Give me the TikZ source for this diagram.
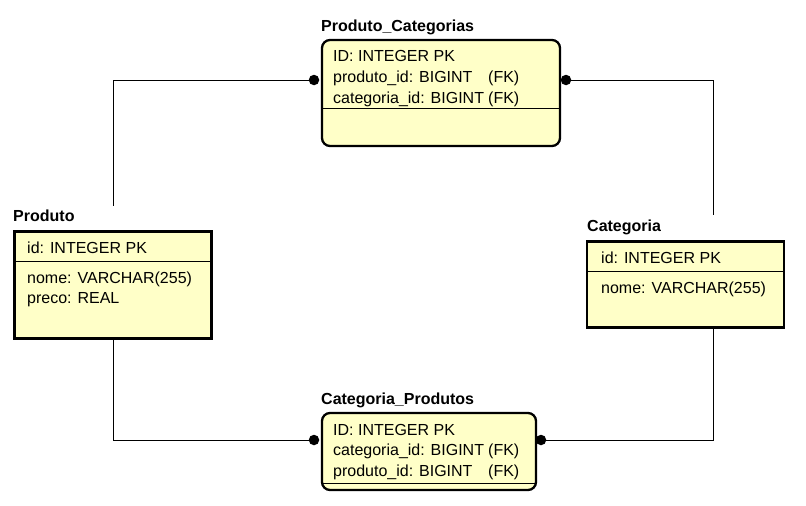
\documentclass[tikz,border=0pt]{standalone}
\usepackage{fontspec}
\setmainfont{Liberation Sans}
\definecolor{entfill}{HTML}{FFFFC8}
\begin{document}
\begin{tikzpicture}[x=1pt,y=-1pt,
  tbl/.style={draw=black, fill=entfill, line width=2.6pt, anchor=north west, inner sep=0pt, outer sep=0pt},
  rtbl/.style={tbl, line width=2.3pt, rounded corners=8pt},
  ttl/.style={anchor=base west, inner sep=0pt, font=\fontsize{16}{19}\selectfont\bfseries},
  fld/.style={anchor=base west, inner sep=0pt, font=\fontsize{16}{19}\selectfont},
  sep/.style={line width=0.9pt},
  conn/.style={line width=0.9pt},
  dotc/.style={circle, fill=black, inner sep=0pt, minimum size=10.5pt}]
\useasboundingbox (0,0) rectangle (806,506);

% ---- Produto_Categorias
\node[rtbl, minimum width=238pt, minimum height=106pt] (pc) at (322,40) {};
\draw[sep] (323,108.5) -- (559,108.5);
\node[ttl] (pct) at (321,31) {Produto\_Categorias};
\node[fld] (pc1) at (333,61.5) {ID: INTEGER PK};
\node[fld] (pc2) at (333,82.5) {produto\_id: BIGINT};
\node[fld] (pc2b) at (488,82.5) {(FK)};
\node[fld] (pc3) at (333,103) {categoria\_id: BIGINT};
\node[fld] (pc3b) at (488,103) {(FK)};

% ---- Categoria_Produtos
\node[rtbl, minimum width=214pt, minimum height=77pt] (cp) at (322,413) {};
\draw[sep] (323,483.5) -- (535,483.5);
\node[ttl] (cpt) at (321,404) {Categoria\_Produtos};
\node[fld] (cp1) at (333,435) {ID: INTEGER PK};
\node[fld] (cp2) at (333,455.5) {categoria\_id: BIGINT};
\node[fld] (cp2b) at (488,455.5) {(FK)};
\node[fld] (cp3) at (333,476) {produto\_id: BIGINT};
\node[fld] (cp3b) at (488,476) {(FK)};

% ---- Produto
\node[tbl, minimum width=197pt, minimum height=107pt] (p) at (14.5,231.5) {};
\draw[sep] (15,261.5) -- (211,261.5);
\node[ttl] (pt) at (13,221) {Produto};
\node[fld] (p1) at (27,253) {id: INTEGER PK};
\node[fld] (p2) at (27,283) {nome: VARCHAR(255)};
\node[fld] (p3) at (27,303) {preco: REAL};

% ---- Categoria
\node[tbl, minimum width=197pt, minimum height=86pt] (c) at (587,241.5) {};
\draw[sep] (588,271.5) -- (783,271.5);
\node[ttl] (ct) at (587,231) {Categoria};
\node[fld] (c1) at (601,263) {id: INTEGER PK};
\node[fld] (c2) at (601,293) {nome: VARCHAR(255)};

% ---- connectors
\node[dotc] (d1) at (314,80) {};
\node[dotc] (d2) at (566,80) {};
\node[dotc] (d3) at (314,440) {};
\node[dotc] (d4) at (541,440) {};
\coordinate (e1) at (113,206);
\coordinate (e2) at (713,215);
\coordinate (pb) at (113,338);
\coordinate (cb) at (713,327.5);

\draw[conn] (d1.center) -| (e1);
\draw[conn] (d2.center) -| (e2);
\draw[conn] (pb) |- (d3.center);
\draw[conn] (cb) |- (d4.center);
\end{tikzpicture}
\end{document}
